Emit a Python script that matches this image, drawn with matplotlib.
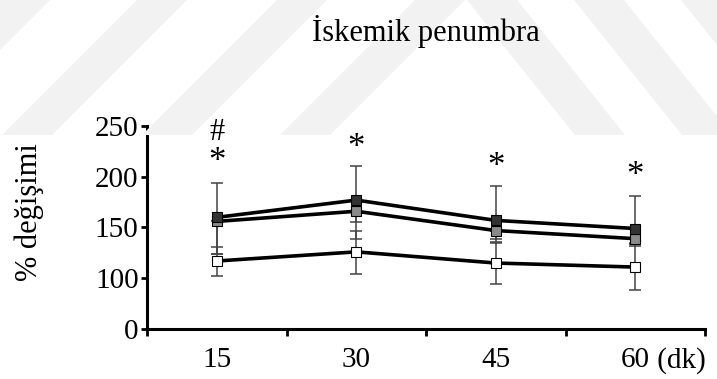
import numpy as np
import matplotlib
matplotlib.use("Agg")
import matplotlib.pyplot as plt
from matplotlib.patches import Polygon

# ============================================================
# DATA
# ============================================================

times = ["15", "30", "45", "60"]

dark = [160, 177, 157, 149]
grey = [156, 166, 147, 139]
white = [117, 126, 115, 111]

# error bar ends
dark_hi = [194, 211, 191, 181]
dark_lo = [124, 139, 139, 135]
grey_lo = [124, 155, 135, 132]
white_hi = [131, 147, 136, 134]
white_lo = [102, 104, 94, 88]

# significance marks
star_y = [214, 228, 209, 200]
hash_y = [244]

ytick_vals = [50, 100, 150, 200, 250]
ytick_labels = ["0", "100", "150", "200", "250"]

# ============================================================
# FIGURE
# ============================================================

plt.rcParams["font.family"] = ["Liberation Serif", "DejaVu Serif"]

W, H = 717, 379
fig = plt.figure(figsize=(W / 100, H / 100), dpi=100)


def px(x, y):
    return (x / W, 1 - y / H)


# faint watermark stripes at the top
stripe_color = "#f2f2f2"
top, bot = 0, 135
for x0 in [-138, 0, 137, 277, 415]:
    pts = [px(x0, top), px(x0 + 50, top), px(x0 + 50 - bot, bot), px(x0 - bot, bot)]
    fig.patches.append(Polygon(pts, closed=True, transform=fig.transFigure,
                               facecolor=stripe_color, edgecolor="none", zorder=0))
for x0 in [467, 574, 681]:
    pts = [px(x0, top), px(x0 + 50, top), px(x0 + 50 + 0.8 * bot, bot), px(x0 + 0.8 * bot, bot)]
    fig.patches.append(Polygon(pts, closed=True, transform=fig.transFigure,
                               facecolor=stripe_color, edgecolor="none", zorder=0))

ax = fig.add_axes([147 / W, 1 - 329 / H, (705 - 147) / W, (329 - 126) / H])
ax.patch.set_alpha(0)

x = np.arange(1, len(times) + 1)

err_kw = dict(fmt="none", ecolor="#444444", elinewidth=1.1, capsize=4.3,
              capthick=1.1, zorder=2)

d = np.array(dark)
g = np.array(grey)
w = np.array(white)

ax.errorbar(x, d, yerr=[d - np.array(dark_lo), np.array(dark_hi) - d], **err_kw)
ax.errorbar(x, g, yerr=[g - np.array(grey_lo), np.zeros(len(g))], **err_kw)
ax.errorbar(x, w, yerr=[w - np.array(white_lo), np.array(white_hi) - w], **err_kw)

line_kw = dict(color="black", lw=2.6, marker="s", markersize=7.8,
               markeredgecolor="black", markeredgewidth=0.8, zorder=3)

ax.plot(x, w, markerfacecolor="white", **line_kw)
ax.plot(x, g, markerfacecolor="#8a8a8a", **line_kw)
ax.plot(x, d, markerfacecolor="#333333", **line_kw)

for xi, yi in zip(x, star_y):
    ax.text(xi, yi, "*", ha="center", va="center", fontsize=25)
for xi, yi in zip(x, hash_y):
    ax.text(xi, yi, "#", ha="center", va="center", fontsize=22)

# axes styling
ax.set_xlim(0.5, len(times) + 0.5)
ax.set_ylim(50, 250)

for s in ["top", "right"]:
    ax.spines[s].set_visible(False)
for s in ["left", "bottom"]:
    ax.spines[s].set_linewidth(2.2)

ax.set_yticks(ytick_vals)
ax.set_yticklabels(ytick_labels, fontsize=21)
ax.tick_params(axis="y", direction="out", length=4, width=2, pad=2)

ax.set_xticks(np.arange(0.5, len(times) + 1, 1.0))
ax.set_xticklabels([])
ax.tick_params(axis="x", direction="out", length=5, width=2)

for xi, lab in zip(x, times):
    ax.text(xi, -0.09, lab, transform=ax.get_xaxis_transform(),
            ha="center", va="top", fontsize=21)
ax.annotate(" (dk)", xy=(x[-1], -0.09), xycoords=ax.get_xaxis_transform(),
            xytext=(10.5, 0), textcoords="offset points",
            ha="left", va="top", fontsize=21)

fig.text(29 / W, 1 - 212 / H, "% değişimi", rotation=90,
         ha="center", va="center", fontsize=22)
fig.text(426 / W, 1 - 41 / H, "İskemik penumbra", ha="center", va="baseline",
         fontsize=22)

fig.savefig("out.png", dpi=100)
